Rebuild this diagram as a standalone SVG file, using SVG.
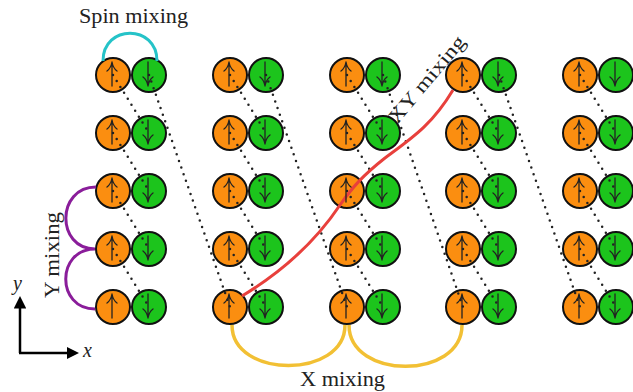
<svg xmlns="http://www.w3.org/2000/svg" width="633" height="392" viewBox="0 0 633 392">
<style>
.o{fill:#fb8e10;stroke:#111;stroke-width:2}
.g{fill:#1cc41c;stroke:#111;stroke-width:2}
.ar{fill:none;stroke:#222;stroke-width:1.3;stroke-linecap:round}
.dot{fill:none;stroke:#222;stroke-width:2.5;stroke-linecap:round;stroke-dasharray:0 7}
.lbl{font-family:"Liberation Serif","DejaVu Serif",serif;font-size:20px;fill:#222}
.it{font-style:italic}
</style>
<defs>
<path id="up" class="ar" d="M0,11 V-13 M-5,-4 Q-1,-7 0,-13 Q1,-7 5,-4"/>
<path id="dn" class="ar" d="M0,-13 V11 M-5,2 Q-1,5 0,11 Q1,5 5,2"/>
<marker id="ah" viewBox="0 0 10 10" refX="2" refY="5" markerWidth="5" markerHeight="5" orient="auto"><path d="M0,0 L10,5 L0,10 z" fill="#000"/></marker>
</defs>

<!-- circles -->
<g id="nodes">
<g id="c1">
<g id="o11"><circle class="o" cx="113" cy="75" r="17"/></g><g id="g11"><circle class="g" cx="149" cy="75" r="17"/></g>
<g id="o12"><circle class="o" cx="113" cy="133" r="17"/></g><g id="g12"><circle class="g" cx="149" cy="133" r="17"/></g>
<g id="o13"><circle class="o" cx="113" cy="191" r="17"/></g><g id="g13"><circle class="g" cx="149" cy="191" r="17"/></g>
<g id="o14"><circle class="o" cx="113" cy="249" r="17"/></g><g id="g14"><circle class="g" cx="149" cy="249" r="17"/></g>
<g id="o15"><circle class="o" cx="113" cy="307" r="17"/></g><g id="g15"><circle class="g" cx="149" cy="307" r="17"/></g>
</g>
<g id="c2">
<g id="o21"><circle class="o" cx="230" cy="75" r="17"/></g><g id="g21"><circle class="g" cx="266" cy="75" r="17"/></g>
<g id="o22"><circle class="o" cx="230" cy="133" r="17"/></g><g id="g22"><circle class="g" cx="266" cy="133" r="17"/></g>
<g id="o23"><circle class="o" cx="230" cy="191" r="17"/></g><g id="g23"><circle class="g" cx="266" cy="191" r="17"/></g>
<g id="o24"><circle class="o" cx="230" cy="249" r="17"/></g><g id="g24"><circle class="g" cx="266" cy="249" r="17"/></g>
<g id="o25"><circle class="o" cx="230" cy="307" r="17"/></g><g id="g25"><circle class="g" cx="266" cy="307" r="17"/></g>
</g>
<g id="c3">
<g id="o31"><circle class="o" cx="347" cy="75" r="17"/></g><g id="g31"><circle class="g" cx="383" cy="75" r="17"/></g>
<g id="o32"><circle class="o" cx="347" cy="133" r="17"/></g><g id="g32"><circle class="g" cx="383" cy="133" r="17"/></g>
<g id="o33"><circle class="o" cx="347" cy="191" r="17"/></g><g id="g33"><circle class="g" cx="383" cy="191" r="17"/></g>
<g id="o34"><circle class="o" cx="347" cy="249" r="17"/></g><g id="g34"><circle class="g" cx="383" cy="249" r="17"/></g>
<g id="o35"><circle class="o" cx="347" cy="307" r="17"/></g><g id="g35"><circle class="g" cx="383" cy="307" r="17"/></g>
</g>
<g id="c4">
<g id="o41"><circle class="o" cx="463" cy="75" r="17"/></g><g id="g41"><circle class="g" cx="499" cy="75" r="17"/></g>
<g id="o42"><circle class="o" cx="463" cy="133" r="17"/></g><g id="g42"><circle class="g" cx="499" cy="133" r="17"/></g>
<g id="o43"><circle class="o" cx="463" cy="191" r="17"/></g><g id="g43"><circle class="g" cx="499" cy="191" r="17"/></g>
<g id="o44"><circle class="o" cx="463" cy="249" r="17"/></g><g id="g44"><circle class="g" cx="499" cy="249" r="17"/></g>
<g id="o45"><circle class="o" cx="463" cy="307" r="17"/></g><g id="g45"><circle class="g" cx="499" cy="307" r="17"/></g>
</g>
<g id="c5">
<g id="o51"><circle class="o" cx="580" cy="75" r="17"/></g><g id="g51"><circle class="g" cx="616" cy="75" r="17"/></g>
<g id="o52"><circle class="o" cx="580" cy="133" r="17"/></g><g id="g52"><circle class="g" cx="616" cy="133" r="17"/></g>
<g id="o53"><circle class="o" cx="580" cy="191" r="17"/></g><g id="g53"><circle class="g" cx="616" cy="191" r="17"/></g>
<g id="o54"><circle class="o" cx="580" cy="249" r="17"/></g><g id="g54"><circle class="g" cx="616" cy="249" r="17"/></g>
<g id="o55"><circle class="o" cx="580" cy="307" r="17"/></g><g id="g55"><circle class="g" cx="616" cy="307" r="17"/></g>
</g>
</g>

<!-- dotted chain connectors -->
<g id="connectors">
<path class="dot" d="M113,75 L149,133 M113,133 L149,191 M113,191 L149,249 M113,249 L149,307"/>
<path class="dot" d="M230,75 L266,133 M230,133 L266,191 M230,191 L266,249 M230,249 L266,307"/>
<path class="dot" d="M347,75 L383,133 M347,133 L383,191 M347,191 L383,249 M347,249 L383,307"/>
<path class="dot" d="M463,75 L499,133 M463,133 L499,191 M463,191 L499,249 M463,249 L499,307"/>
<path class="dot" d="M580,75 L616,133 M580,133 L616,191 M580,191 L616,249 M580,249 L616,307"/>
<path class="dot" d="M149,75 L230,307 M266,75 L347,307 M383,75 L463,307 M499,75 L580,307"/>
<!-- mixing arcs -->
<path id="spin" d="M103,61 C103,24 157,24 157,61" fill="none" stroke="#25c3c8" stroke-width="3"/>
<path id="ymix" d="M96,187 C56,187 56,249 95,249 C56,249 56,309 95,309" fill="none" stroke="#8a1d9a" stroke-width="3"/>
<path id="xmix" d="M232,325 C232,379 345,379 345,325 M349,325 C349,380 462,380 462,325" fill="none" stroke="#f2c034" stroke-width="3.5"/>
<path id="xymix" d="M242,296 C285,270 318,238 340,205 C352,188 362,176 385,158 C412,138 432,125 453,90" fill="none" stroke="#e8403c" stroke-width="3"/>
</g>

<!-- spin arrows -->
<g id="spins">
<use href="#up" x="112" y="75"/><use href="#dn" x="148" y="75"/>
<use href="#up" x="112" y="133"/><use href="#dn" x="148" y="133"/>
<use href="#up" x="112" y="191"/><use href="#dn" x="148" y="191"/>
<use href="#up" x="112" y="249"/><use href="#dn" x="148" y="249"/>
<use href="#up" x="112" y="307"/><use href="#dn" x="148" y="307"/>
<use href="#up" x="229" y="75"/><use href="#dn" x="265" y="75"/>
<use href="#up" x="229" y="133"/><use href="#dn" x="265" y="133"/>
<use href="#up" x="229" y="191"/><use href="#dn" x="265" y="191"/>
<use href="#up" x="229" y="249"/><use href="#dn" x="265" y="249"/>
<use href="#up" x="229" y="307"/><use href="#dn" x="265" y="307"/>
<use href="#up" x="346" y="75"/><use href="#dn" x="382" y="75"/>
<use href="#up" x="346" y="133"/><use href="#dn" x="382" y="133"/>
<use href="#up" x="346" y="191"/><use href="#dn" x="382" y="191"/>
<use href="#up" x="346" y="249"/><use href="#dn" x="382" y="249"/>
<use href="#up" x="346" y="307"/><use href="#dn" x="382" y="307"/>
<use href="#up" x="462" y="75"/><use href="#dn" x="498" y="75"/>
<use href="#up" x="462" y="133"/><use href="#dn" x="498" y="133"/>
<use href="#up" x="462" y="191"/><use href="#dn" x="498" y="191"/>
<use href="#up" x="462" y="249"/><use href="#dn" x="498" y="249"/>
<use href="#up" x="462" y="307"/><use href="#dn" x="498" y="307"/>
<use href="#up" x="579" y="75"/><use href="#dn" x="615" y="75"/>
<use href="#up" x="579" y="133"/><use href="#dn" x="615" y="133"/>
<use href="#up" x="579" y="191"/><use href="#dn" x="615" y="191"/>
<use href="#up" x="579" y="249"/><use href="#dn" x="615" y="249"/>
<use href="#up" x="579" y="307"/><use href="#dn" x="615" y="307"/>
</g>

<!-- axes -->
<g id="axes" stroke="#000" stroke-width="2.5" fill="none">
<path d="M20,353 V306" marker-end="url(#ah)"/>
<path d="M19,353 H69" marker-end="url(#ah)"/>
</g>

<!-- labels -->
<g id="labels">
<text class="lbl" x="79" y="23" textLength="109" lengthAdjust="spacingAndGlyphs">Spin mixing</text>
<text class="lbl" x="0" y="0" transform="translate(59,298) rotate(-90)" textLength="86" lengthAdjust="spacingAndGlyphs" style="font-size:21px">Y mixing</text>
<text class="lbl" x="300" y="386" textLength="85" lengthAdjust="spacingAndGlyphs">X mixing</text>
<text class="lbl" x="0" y="0" transform="translate(397,125) rotate(-50)" textLength="108" lengthAdjust="spacingAndGlyphs">XY mixing</text>
<text class="lbl it" x="13" y="290">y</text>
<text class="lbl it" x="83" y="357">x</text>
</g>
</svg>
